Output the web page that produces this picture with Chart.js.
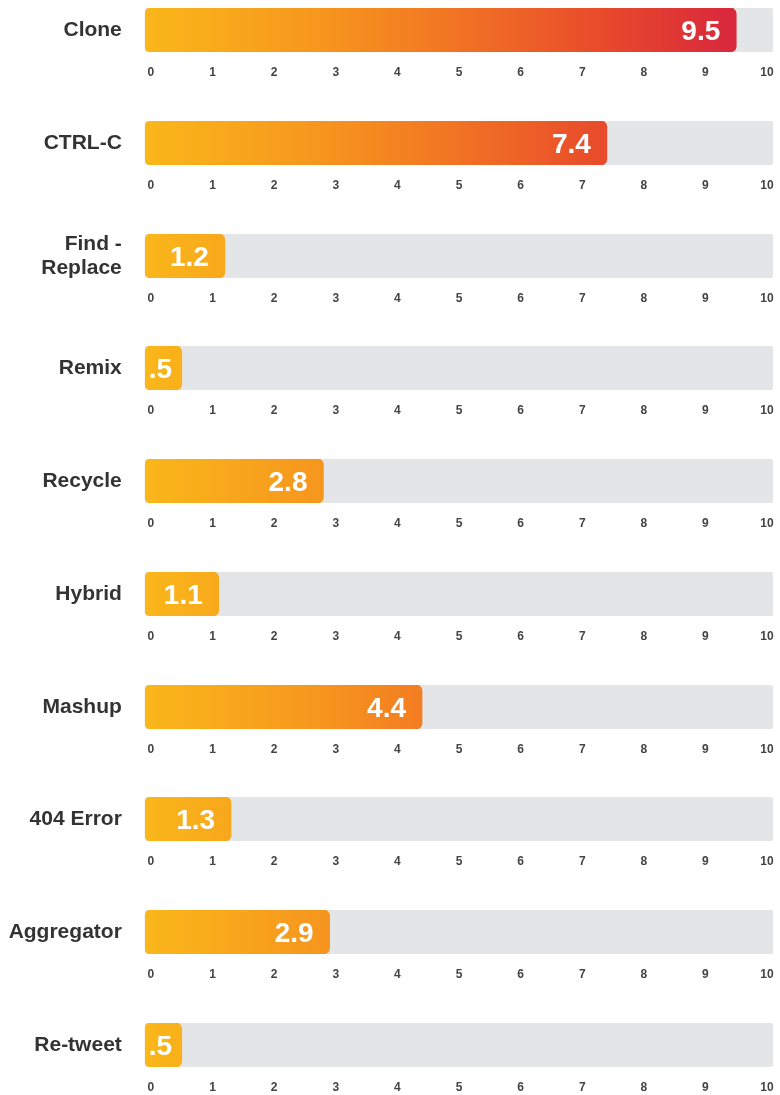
<!DOCTYPE html>
<html>
<head>
<meta charset="utf-8">
<script src="https://cdn.jsdelivr.net/npm/chart.js@4.4.1/dist/chart.umd.min.js"></script>
<style>
html, body { margin: 0; padding: 0; background: #fff; }
#wrap { position: relative; width: 780px; height: 1095px; overflow: hidden; }
.row { position: absolute; left: 0; width: 780px; height: 113px; }
</style>
</head>
<body>
<div id="wrap"></div>
<script>
// data
const categories = ["Clone", "CTRL-C", ["Find -", "Replace"], "Remix", "Recycle", "Hybrid", "Mashup", "404 Error", "Aggregator", "Re-tweet"];
const values = [9.5, 7.4, 1.2, 0.5, 2.8, 1.1, 4.4, 1.3, 2.9, 0.5];
const tickValues = [0, 1, 2, 3, 4, 5, 6, 7, 8, 9, 10];
const axisMin = -0.1;
const axisMax = 10.1;

const rowStep = 112.75;
const labelFont = '"Liberation Sans", Arial, sans-serif';

function barGradient(context) {
    const area = context.chart.chartArea;
    if (!area) return '#f7941d';
    const g = context.chart.ctx.createLinearGradient(area.left, 0, area.right, 0);
    g.addColorStop(0, '#fab71a');
    g.addColorStop(0.28, '#f6961e');
    g.addColorStop(0.45, '#f37b22');
    g.addColorStop(0.73, '#e84a2b');
    g.addColorStop(0.93, '#d9293c');
    g.addColorStop(1, '#d6253d');
    return g;
}

function valueText(v) {
    return v < 1 ? String(v).replace(/^0/, '') : String(v);
}

// white number at the end of each orange bar
const valueLabels = {
    id: 'valueLabels',
    afterDatasetsDraw(chart) {
        const meta = chart.getDatasetMeta(0);
        const ctx = chart.ctx;
        ctx.save();
        ctx.font = 'bold 28px ' + labelFont;
        ctx.fillStyle = '#ffffff';
        ctx.textAlign = 'right';
        ctx.textBaseline = 'middle';
        meta.data.forEach((bar, i) => {
            const txt = valueText(chart.data.datasets[0].data[i]);
            const w = ctx.measureText(txt).width;
            const x = Math.max(bar.x - 16, bar.base + 4 + w);
            ctx.fillText(txt, x, bar.y + 2);
        });
        ctx.restore();
    }
};

const wrap = document.getElementById('wrap');

categories.forEach((cat, i) => {
    const row = document.createElement('div');
    row.className = 'row';
    row.style.top = Math.round(i * rowStep) + 'px';
    const canvas = document.createElement('canvas');
    row.appendChild(canvas);
    wrap.appendChild(row);

    new Chart(canvas, {
        type: 'bar',
        data: {
            labels: [cat],
            datasets: [{
                label: 'score',
                data: [values[i]],
                base: axisMin,
                backgroundColor: barGradient,
                borderRadius: 6,
                borderSkipped: false,
                grouped: false,
                order: 0
            }, {
                label: 'track',
                data: [axisMax],
                base: axisMin,
                backgroundColor: '#e4e5e7',
                borderRadius: 4,
                borderSkipped: false,
                grouped: false,
                order: 1
            }]
        },
        options: {
            indexAxis: 'y',
            responsive: true,
            maintainAspectRatio: false,
            animation: false,
            barPercentage: 1,
            categoryPercentage: 1,
            layout: {
                padding: { top: 8, right: 6.8, left: 0, bottom: 0 }
            },
            plugins: {
                legend: { display: false },
                tooltip: { enabled: false }
            },
            scales: {
                x: {
                    type: 'linear',
                    min: axisMin,
                    max: axisMax,
                    grid: { display: false, drawTicks: false },
                    border: { display: false },
                    afterBuildTicks: scale => {
                        scale.ticks = tickValues.map(v => ({ value: v }));
                    },
                    afterFit: scale => {
                        scale.height = 113 - 8 - 44;
                        scale.paddingLeft = 0;
                        scale.paddingRight = 0;
                    },
                    ticks: {
                        padding: 13,
                        color: '#444',
                        font: { family: labelFont, size: 12, weight: 'bold' }
                    }
                },
                y: {
                    grid: { display: false, drawTicks: false },
                    border: { display: false },
                    afterFit: scale => {
                        scale.width = 144.8;
                        scale.paddingTop = 0;
                        scale.paddingBottom = 0;
                    },
                    ticks: {
                        padding: 23,
                        color: '#333',
                        font: { family: labelFont, size: 21, weight: 'bold', lineHeight: 1.15 }
                    }
                }
            }
        },
        plugins: [valueLabels]
    });
});
</script>
</body>
</html>
